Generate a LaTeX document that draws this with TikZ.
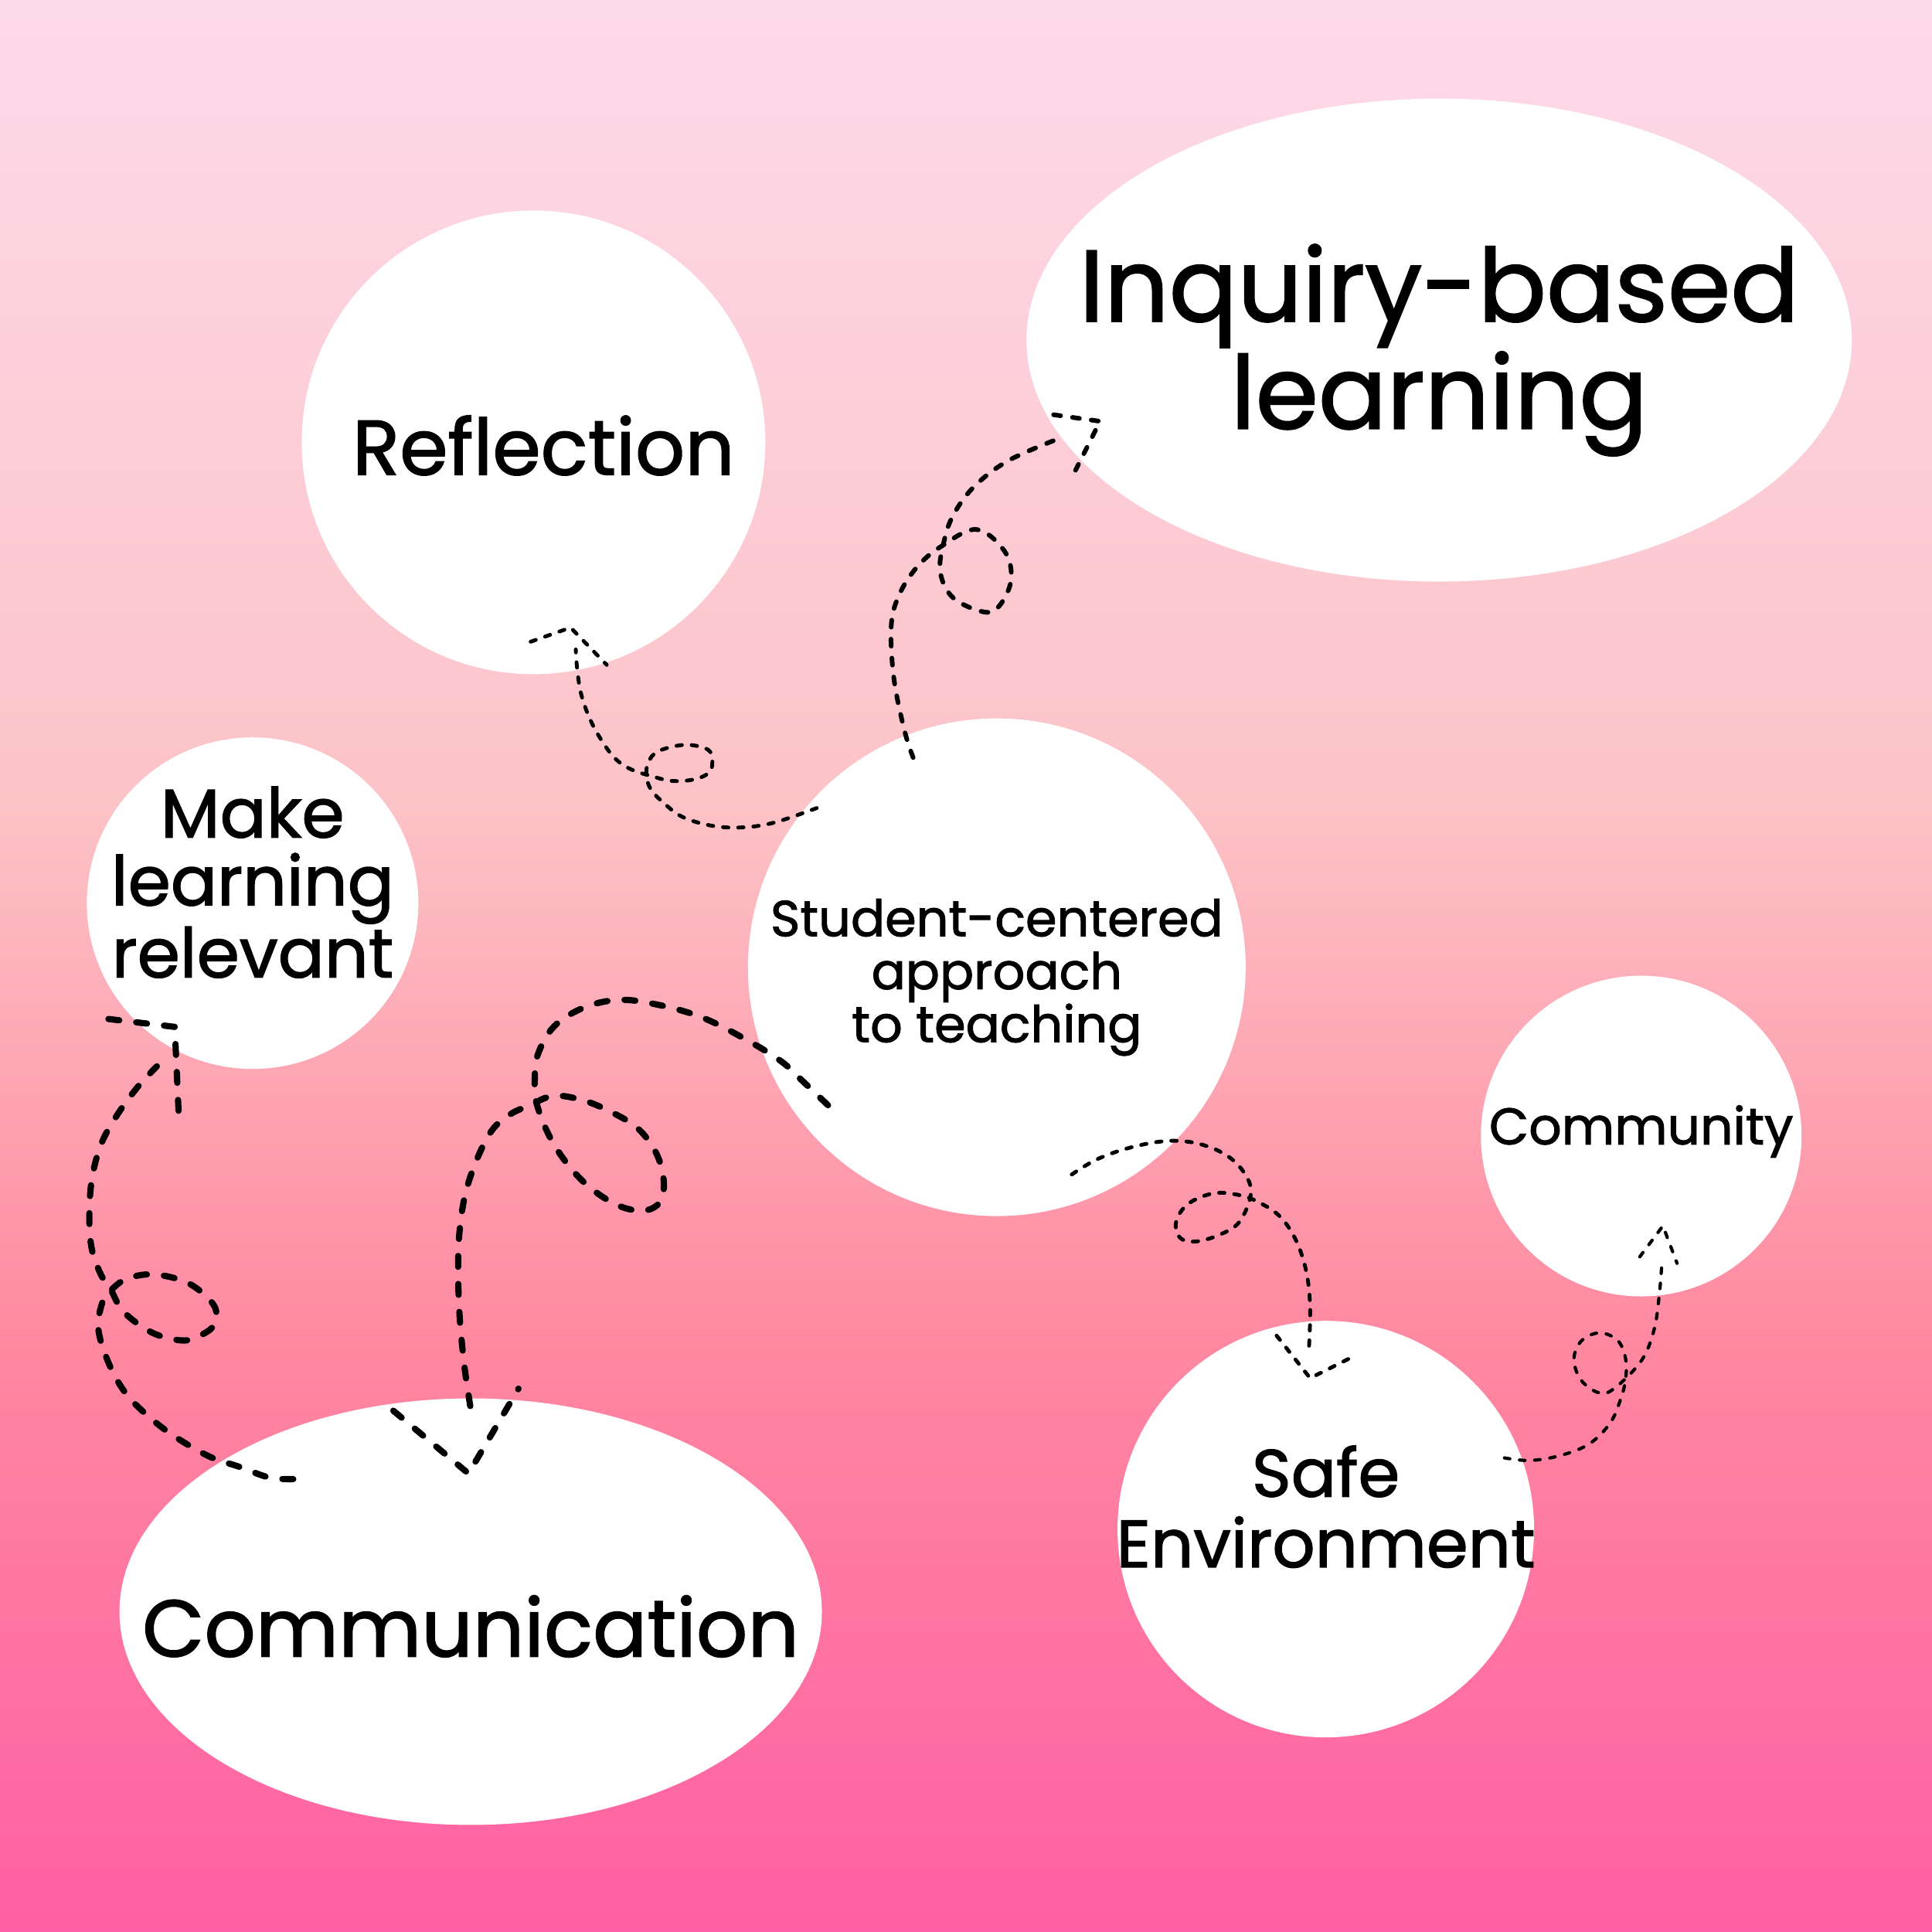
\documentclass[tikz,border=0pt]{standalone}
\usepackage{fontspec}
\setmainfont{Poppins}[FakeBold=1.5]
\usetikzlibrary{shapes.geometric}
\definecolor{bgtop}{HTML}{FDDAEA}
\definecolor{bgmid}{HTML}{FCC3C7}
\definecolor{bglow}{HTML}{FF87A0}
\definecolor{bgbot}{HTML}{FF5FA4}
\tikzset{
  blob/.style={circle,fill=white,inner sep=0pt},
  oval/.style={ellipse,fill=white,inner sep=0pt},
  txt/.style={align=center,text=black,inner sep=0pt},
  loopy/.style={draw=black,line width=1.4pt,line cap=round,line join=round,
    dash pattern=on 2pt off 3.6pt},
  loopymid/.style={loopy,line width=1.7pt,dash pattern=on 2.6pt off 4.4pt},
  loopythick/.style={loopy,line width=2.3pt,dash pattern=on 4pt off 6.3pt},
  curly/.style={smooth,tension=0.6},
}

\begin{document}
\begin{tikzpicture}[x=0.015944cm,y=-0.015944cm]
  \useasboundingbox (0,0) rectangle (1568,1568);
  % background
  \shade[top color=bgtop,bottom color=bgmid] (0,0) rectangle (1568,652);
  \shade[top color=bgmid,bottom color=bglow] (0,650) rectangle (1568,1102);
  \shade[top color=bglow,bottom color=bgbot] (0,1100) rectangle (1568,1568);

  \node[blob,minimum size=6cm,
    label={[txt,font=\fontsize{28.6}{30}\selectfont,xshift=0.13cm,yshift=-0.04cm]center:Reflection}] (reflection) at (433,359) {};
  \node[oval,minimum width=10.68cm,minimum height=6.25cm,
    label={[txt,font=\fontsize{37.3}{39.5}\selectfont,yshift=-0.13cm]center:{Inquiry-based\\learning}}] (inquiry) at (1168,276) {};
  \node[blob,minimum size=4.29cm,
    label={[txt,font=\fontsize{25.3}{25}\selectfont,yshift=0.27cm]center:{Make\\learning\\relevant}}] (relevant) at (205,733) {};
  \node[blob,minimum size=6.44cm,
    label={[txt,font=\fontsize{18.6}{19.5}\selectfont,yshift=-0.13cm]center:{Student-centered\\approach\\to teaching}}] (student) at (809,785) {};
  \node[blob,minimum size=4.15cm,
    label={[txt,font=\fontsize{18.9}{20}\selectfont,yshift=0.06cm]center:Community}] (community) at (1332,922) {};
  \node[blob,minimum size=5.39cm,
    label={[txt,font=\fontsize{24.6}{26}\selectfont,yshift=0.29cm]center:{Safe\\Environment}}] (safe) at (1076,1241) {};
  \node[oval,minimum width=9.09cm,minimum height=5.52cm,
    label={[txt,font=\fontsize{29.6}{31}\selectfont,yshift=-0.19cm]center:Communication}] (communication) at (382,1308) {};

  \coordinate (stu-refl) at (662.9,655.8);
  \coordinate (refl-tip) at (463.1,509.3);
  \coordinate (stu-inq) at (741.1,614.9);
  \coordinate (inq-tip) at (892.8,341.9);
  \coordinate (stu-comm) at (672,897);
  \coordinate (comm-tip) at (380.2,1195.9);
  \coordinate (comm-rel) at (238,1200.4);
  \coordinate (rel-tip) at (141.8,833.4);
  \coordinate (stu-safe) at (869.8,953.2);
  \coordinate (safe-tip) at (1063.3,1118.5);
  \coordinate (safe-com) at (1221,1183.2);
  \coordinate (com-tip) at (1349.6,994.9);

  \draw[loopy] plot[curly] coordinates {(stu-refl) (629.4,667.3) (604.3,671.4) (579.2,670.4)
      (554.1,663.1) (537.4,650.5) (527.9,640.1) (524.8,629.6) (525.9,619.2) (534.2,609.7)
      (556.2,604.5) (575,608.7) (578.1,619.2) (575,627.5) (562.5,632.7) (545.7,633.8)
      (531.1,630.6) (512.2,624.4) (499.7,616) (489.2,602.4) (478.8,583.6) (471.5,562.7)
      (468.3,541.7) (467.3,527.1)}
    (430.7,520.8) -- (refl-tip) -- (492.4,539.6);
  \draw[loopymid] plot[curly] coordinates {(stu-inq) (733.8,591.9) (725.4,550) (723.3,508.2)
      (729.6,483.1) (744.3,460.1) (764.1,443.3) (792.4,429.7) (815.4,447.5) (820.6,470.5)
      (811.2,491.5) (798.7,496.7) (773.6,485.2) (763.1,464.3) (766,440) (773.6,418.2)
      (790.3,395.2) (817.5,374.3) (855.1,357.6)}
    (855.1,336.6) -- (inq-tip) -- (872.9,381.6);
  \draw[loopythick] plot[curly] coordinates {(stu-comm) (650.5,876.5) (633.8,861.2) (605,843.4)
      (569.2,825.5) (533.3,815.3) (502.2,811.5) (473.5,817.9) (449.5,833.2) (436.4,856.1)
      (434,876.5) (435.2,894.4) (444.8,919.9) (459.1,942.9) (478.2,963.3) (502.2,978.6)
      (523.7,982.4) (536.9,973.5) (538.1,953.1) (530.9,932.7) (516.5,914.8) (495,902)
      (473.5,893.1) (449.5,889.3) (430,897) (413.7,904.6) (399.3,917.3) (387.3,940.3)
      (377.8,968.4) (373,999) (371.8,1029.6) (373,1067.9) (376.6,1106.1) (380.2,1131.7)
      (382.6,1146.9)}
    (319.2,1144.9) -- (comm-tip) -- (420.8,1127);
  \draw[loopythick] plot[curly] coordinates {(comm-rel) (218.4,1199.1) (193.6,1190.2)
      (170.8,1182.5) (143.9,1167.2) (123.2,1151.8) (102.5,1131.4) (88,1105.8) (79.7,1077.6)
      (83.9,1054.6) (90.1,1047) (102.5,1038) (123.2,1034.2) (148,1039.3) (164.6,1049.5)
      (175,1062.3) (173.9,1075.1) (164.6,1082.8) (150.1,1087.9) (129.4,1084) (112.8,1075.1)
      (98.4,1062.3) (90.1,1047) (81.8,1034.2) (74.5,1013.7) (72.5,988.1) (74.5,957.4)
      (81.8,929.3) (94.2,906.3) (110.8,883.3) (127.3,865.4)}
    (88,827) -- (rel-tip) -- (145,903.7);
  \draw[loopy] plot[curly] coordinates {(stu-safe) (890.7,940.7) (917.9,931.2) (947.2,926)
      (972.3,928.1) (995.3,937.5) (1010,952.2) (1015.2,968.9) (1005.7,991.9) (989,1002.4)
      (970.2,1007.6) (957.6,1004.5) (954.5,991.9) (963.9,977.3) (984.8,968.5) (1005.7,969.9)
      (1022.5,976.2) (1039.2,987.7) (1051.8,1006.6) (1060.1,1031.7) (1063.3,1061)
      (1062.2,1096.5)}
    (1036.1,1084) -- (safe-tip) -- (1098.8,1100.7);
  \draw[loopy,line width=1.2pt] plot[curly] coordinates {(safe-com) (1241.9,1185.3) (1267,1181.1)
      (1290,1171.7) (1306.7,1155) (1315.1,1136.1) (1319.3,1119.4) (1319.3,1102.7) (1313,1088)
      (1298.4,1081.7) (1283.7,1088) (1277.4,1102.7) (1282.7,1119.4) (1296.3,1129.9)
      (1308.8,1127.8) (1331.8,1104.8) (1342.3,1079.7) (1346.5,1052.5) (1348.6,1027.4)}
    (1330.8,1020) -- (com-tip) -- (1361.1,1025.3);
\end{tikzpicture}
\end{document}
